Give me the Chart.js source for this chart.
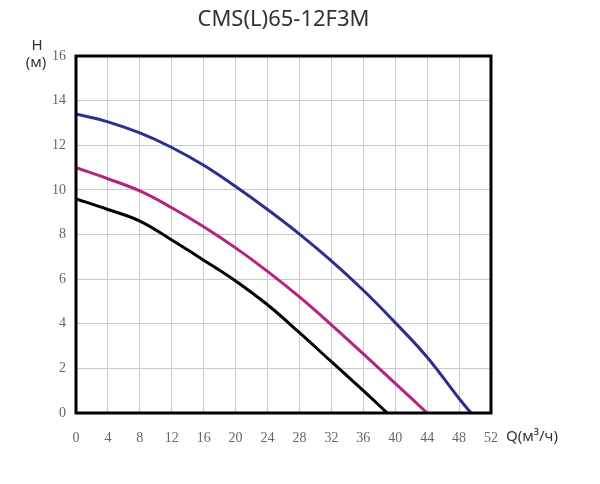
<!DOCTYPE html>
<html>
<head>
<meta charset="utf-8">
<script src="https://cdn.jsdelivr.net/npm/chart.js@4.4.1/dist/chart.umd.min.js"></script>
<style>
  html, body { margin:0; padding:0; background:#fff; }
  #wrap { width:600px; height:484px; }
</style>
</head>
<body>
<div id="wrap"><canvas id="pumpChart" width="600" height="484"></canvas></div>
<script>
// Q, м³/ч
var flowBlue = [0, 4, 8, 12, 16, 20, 24, 28, 32, 36, 40, 44, 48, 49.5]
var headBlue = [13.4, 13.05, 12.55, 11.9, 11.1, 10.15, 9.12, 8.02, 6.82, 5.5, 4.05, 2.5, 0.65, 0]

var flowPink = [0, 4, 8, 12, 16, 20, 24, 28, 32, 36, 40, 44]
var headPink = [11.0, 10.5, 9.95, 9.2, 8.35, 7.4, 6.35, 5.2, 3.95, 2.65, 1.33, 0]

var flowBlack = [0, 4, 8, 12, 16, 20, 24, 28, 32, 36, 39]
var headBlack = [9.6, 9.12, 8.6, 7.75, 6.85, 5.92, 4.85, 3.6, 2.3, 1.0, 0]

var chartTitle = "CMS(L)65-12F3M"
var yLabel = ["H", "(м)"]
var xLabel = "Q(м³/ч)"

var tickFont = { family:"Liberation Serif, Times New Roman, serif", size:14 }

function toPoints(xs, ys){
    let pts = new Array()
    for(let i=0; i<xs.length; i++) pts.push({x:xs[i], y:ys[i]})
    return pts
}

// title, axis names and the frame
var labelsPlugin = {
    id:"labels",
    afterDatasetsDraw:function(chart){
        let ctx = chart.ctx
        let a = chart.chartArea
        ctx.save()
        ctx.strokeStyle = "#000"
        ctx.lineWidth = 3
        ctx.strokeRect(a.left, a.top, a.right - a.left, a.bottom - a.top)

        ctx.fillStyle = "#333"
        ctx.textBaseline = "middle"
        ctx.textAlign = "center"
        ctx.font = "22px 'Noto Sans', sans-serif"
        ctx.fillText(chartTitle, (a.left + a.right) / 2, 20)

        ctx.font = "15px 'Noto Sans', sans-serif"
        ctx.fillText(yLabel[0], 37, 46)
        ctx.fillText(yLabel[1], 36, 63)
        ctx.textAlign = "left"
        ctx.fillText(xLabel, 506, 437)
        ctx.restore()
    }
}

var pumpChart = new Chart(document.getElementById("pumpChart"), {
    type:"line",
    plugins:[labelsPlugin],
    data:{
        datasets:[
            { data:toPoints(flowBlue, headBlue), borderColor:"#2c2f8e" },
            { data:toPoints(flowPink, headPink), borderColor:"#b8217f" },
            { data:toPoints(flowBlack, headBlack), borderColor:"#000000" }
        ]
    },
    options:{
        responsive:false,
        animation:false,
        devicePixelRatio:1,
        layout:{ padding:{ top:56, right:109, bottom:0, left:0 } },
        elements:{
            point:{ radius:0 },
            line:{ borderWidth:3, tension:0.4, fill:false }
        },
        plugins:{
            legend:{ display:false },
            tooltip:{ enabled:false }
        },
        scales:{
            x:{
                type:"linear",
                min:0, max:52,
                border:{ display:false },
                grid:{ color:"#c9c9c9", lineWidth:1, drawTicks:false },
                ticks:{ stepSize:4, padding:17, color:"#666", font:tickFont },
                afterFit:function(scale){ scale.height = 71 }
            },
            y:{
                min:0, max:16,
                border:{ display:false },
                grid:{ color:"#c9c9c9", lineWidth:1, drawTicks:false },
                ticks:{ stepSize:2, padding:10, color:"#666", font:tickFont },
                afterFit:function(scale){ scale.width = 76 }
            }
        }
    }
})
</script>
</body>
</html>
